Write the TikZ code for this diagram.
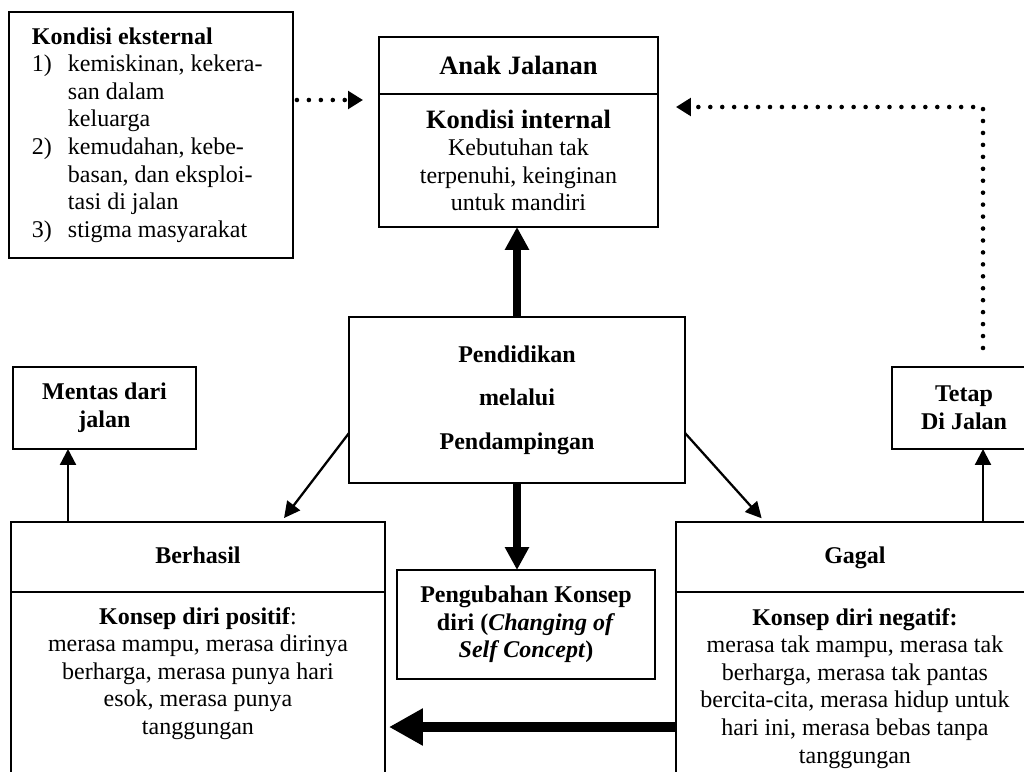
\documentclass[tikz,border=0pt]{standalone}
\usepackage{fontspec}
\setmainfont{Liberation Serif}
\usetikzlibrary{arrows.meta}
\newcommand{\hurufisi}{\fontsize{13.66pt}{15.7pt}\selectfont}
\newcommand{\hurufbesar}{\fontsize{15.08pt}{17pt}\selectfont}

\begin{document}
\begin{tikzpicture}
	[
		x=0.02cm, y=-0.02cm,
		% Make a style for a plain box.
		kotak/.style={draw, line width=1pt, inner sep=0pt, outer sep=0pt, align=center, font=\hurufisi},
		% And one for text with no frame.
		teks/.style={inner sep=0pt, align=center, font=\hurufisi},
		% Thin arrow, thick arrows and the dotted one.
		panah/.style={line width=1.3pt, -{Triangle[length=0.32cm, width=0.32cm]}},
		panahtebal/.style={line width=4.3pt, -{Triangle[length=0.46cm, width=0.46cm]}},
		panahlebar/.style={line width=6pt, -{Triangle[length=0.68cm, width=0.7cm]}},
		panahtitik/.style={line width=2.6pt, line cap=round, dash pattern=on 0pt off 6.8pt, -{Triangle[length=0.3cm, width=0.35cm]}}
	]
	\useasboundingbox (0,0) rectangle (1024,771);
	\clip (0,0) rectangle (1024,771);

	\node[kotak, anchor=north west, text width=4.76cm, inner xsep=0.46cm, minimum height=4.92cm, align=flush left] (ekst) at (9,12)
	{
		\textbf{Kondisi eksternal}\\
		\makebox[0.72cm][l]{1)}kemiskinan, kekera-\\
		\hspace*{0.72cm}san dalam\\
		\hspace*{0.72cm}keluarga\\
		\makebox[0.72cm][l]{2)}kemudahan, kebe-\\
		\hspace*{0.72cm}basan, dan eksploi-\\
		\hspace*{0.72cm}tasi di jalan\\
		\makebox[0.72cm][l]{3)}stigma masyarakat
	};

	\node[kotak, anchor=north west, minimum width=5.58cm, minimum height=1.14cm, font=\hurufbesar\bfseries] (anakjudul) at (379,37) {Anak Jalanan};
	\node[kotak, anchor=north, minimum width=5.58cm, minimum height=2.66cm] (anakisi) at (anakjudul.south)
		{{\hurufbesar\bfseries Kondisi internal}\\Kebutuhan tak\\terpenuhi, keinginan\\untuk mandiri};

	\node[kotak, minimum width=6.72cm, minimum height=3.32cm, font=\fontsize{13.66pt}{24.75pt}\selectfont\bfseries] (pendidikan) at (517,400)
		{Pendidikan\\melalui\\Pendampingan};
	\node[kotak, minimum width=5.16cm, minimum height=2.18cm, font=\hurufisi\bfseries] (pengubahan) at (526,624.5)
		{Pengubahan Konsep\\diri (\textit{Changing of}\\\textit{Self Concept})};

	\node[kotak, minimum width=3.66cm, minimum height=1.64cm, font=\hurufisi\bfseries] (mentas) at (104.5,408) {Mentas dari\\jalan};
	\node[kotak, minimum width=2.88cm, minimum height=1.64cm, font=\hurufisi\bfseries] (tetap) at (964,408) {Tetap\\Di Jalan};

	\node[kotak, anchor=north west, minimum width=7.48cm, minimum height=1.4cm, text height=0.34cm, text depth=0.1cm, font=\hurufisi\bfseries] (berhasil) at (11,522) {Berhasil};
	\node[kotak, anchor=north, minimum width=7.48cm, minimum height=4.6cm] (berhasilisi) at (berhasil.south) {};
	\node[teks, anchor=north] (berhasilteks) at ([yshift=-0.3cm]berhasil.south)
		{\textbf{Konsep diri positif}:\\merasa mampu, merasa dirinya\\berharga, merasa punya hari\\esok, merasa punya\\tanggungan};

	\node[kotak, anchor=north west, minimum width=7.16cm, minimum height=1.4cm, text height=0.34cm, text depth=0.1cm, font=\hurufisi\bfseries] (gagal) at (676,522) {Gagal};
	\node[kotak, anchor=north, minimum width=7.16cm, minimum height=4.6cm] (gagalisi) at (gagal.south) {};
	\node[teks, anchor=north] (gagalteks) at ([yshift=-0.32cm]gagal.south)
		{\textbf{Konsep diri negatif:}\\merasa tak mampu, merasa tak\\berharga, merasa tak pantas\\bercita-cita, merasa hidup untuk\\hari ini, merasa bebas tanpa\\tanggungan};

	\coordinate (ujung) at (983,348);

	% Arrows
	\draw[panahtitik, shorten <=0.08cm, shorten >=0.32cm] (ekst.east |- 0,100) -- (anakisi.west |- 0,100);
	\draw[panahtitik, shorten >=0.36cm] (ujung) |- (anakisi.east |- 0,107);
	\draw[panahtebal] (pendidikan.north) -- (pendidikan.north |- anakisi.south);
	\draw[panahtebal] (pendidikan.south) -- (pendidikan.south |- pengubahan.north);
	\draw[panah, shorten >=0.1cm] (pendidikan.west |- 0,433) -- (berhasil.north -| 281,0);
	\draw[panah, shorten >=0.1cm] (pendidikan.east |- 0,433) -- (gagal.north -| 765,0);
	\draw[panah] (berhasil.north -| 68,0) -- (mentas.south -| 68,0);
	\draw[panah] (gagal.north -| 983,0) -- (tetap.south -| 983,0);
	\draw[panahlebar, shorten >=0.08cm] (gagalisi.west |- 0,727) -- (berhasilisi.east |- 0,727);
\end{tikzpicture}
\end{document}
